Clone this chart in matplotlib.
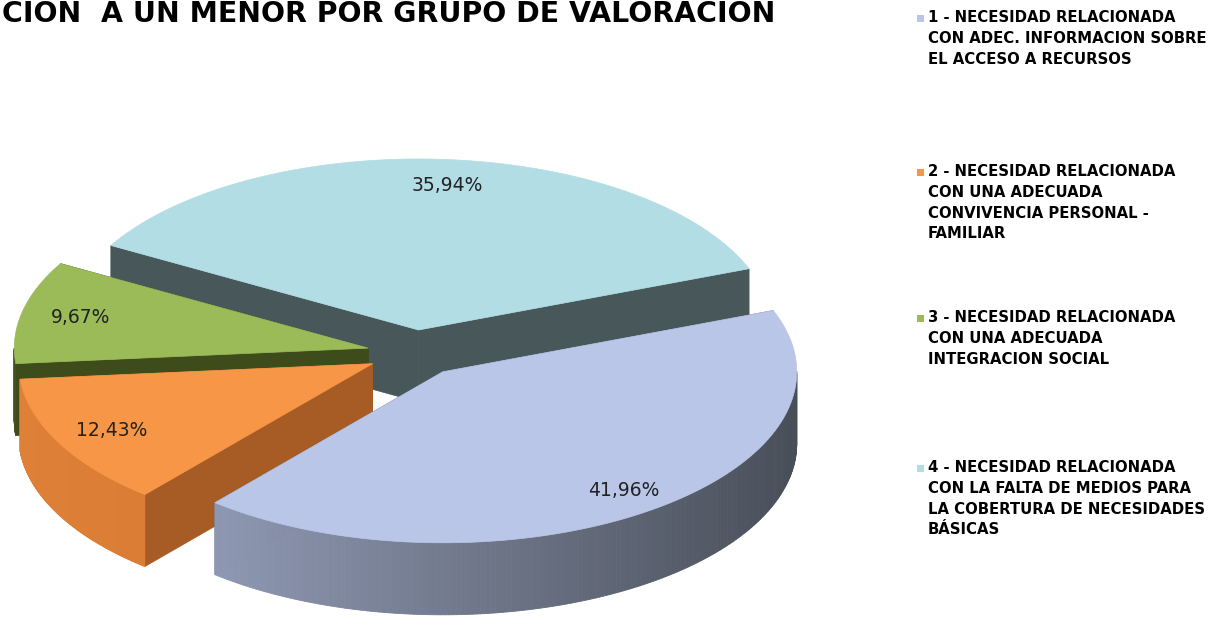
import numpy as np
import matplotlib.pyplot as plt
from matplotlib.patches import Polygon, Rectangle

plt.rcParams["font.family"] = ["DejaVu Sans"]

# datos
values = [41.96, 12.43, 9.67, 35.94]
pct_labels = ["41,96%", "12,43%", "9,67%", "35,94%"]
legend_labels = [
    "1 - NECESIDAD RELACIONADA\nCON ADEC. INFORMACION SOBRE\nEL ACCESO A RECURSOS",
    "2 - NECESIDAD RELACIONADA\nCON UNA ADECUADA\nCONVIVENCIA PERSONAL -\nFAMILIAR",
    "3 - NECESIDAD RELACIONADA\nCON UNA ADECUADA\nINTEGRACION SOCIAL",
    "4 - NECESIDAD RELACIONADA\nCON LA FALTA DE MEDIOS PARA\nLA COBERTURA DE NECESIDADES\nBÁSICAS",
]
title = "CION  A UN MENOR POR GRUPO DE VALORACION"

# colores
top_colors = ["#bac6e8", "#f79646", "#9bbb59", "#b2dde4"]
face_colors = ["#5a6470", "#a65c24", "#3e4c1b", "#47575a"]
wall_left = [np.array([158, 168, 198]), np.array([222, 128, 55]), np.array([66, 80, 30]), np.array([72, 88, 90])]
wall_right = [np.array([72, 78, 88]), np.array([200, 110, 45]), np.array([62, 76, 28]), np.array([72, 88, 90])]

# geometria (pixeles)
cx, cy = 415, 353
a, b = 354, 171
depth = 72
explode = 0.135
start = 21.0

fig = plt.figure(figsize=(12.12, 6.17), dpi=100)
ax = fig.add_axes([0, 0, 1, 1])
ax.set_xlim(0, 1212)
ax.set_ylim(617, 0)
ax.axis("off")


def pt(apex, th, r=1.0, z=0.0):
    t = np.radians(th)
    return (apex[0] + r * a * np.cos(t), apex[1] - r * b * np.sin(t) + z)


angles = []
cum = start
for v in values:
    t1 = cum
    t2 = cum - v * 3.6
    angles.append((t1, t2))
    cum = t2

apexes = []
for t1, t2 in angles:
    m = np.radians((t1 + t2) / 2)
    apexes.append((cx + explode * a * np.cos(m), cy - explode * b * np.sin(m)))

for i in [3, 2, 1, 0]:
    t1, t2 = angles[i]
    apex = apexes[i]
    # caras radiales
    for t in (t1, t2):
        c = pt(apex, t)
        quad = [apex, c, (c[0], c[1] + depth), (apex[0], apex[1] + depth)]
        ax.add_patch(Polygon(quad, closed=True, facecolor=face_colors[i],
                             edgecolor=face_colors[i], lw=0.5))
    # pared exterior (solo la parte frontal)
    ths = np.linspace(t1, t2, 240)
    for k in range(len(ths) - 1):
        th_a, th_b = ths[k], ths[k + 1]
        if np.sin(np.radians((th_a + th_b) / 2)) >= 0:
            continue
        p1 = pt(apex, th_a)
        p2 = pt(apex, th_b)
        f = (np.cos(np.radians((th_a + th_b) / 2)) + 1) / 2
        col = (wall_left[i] * (1 - f) + wall_right[i] * f) / 255
        ax.add_patch(Polygon([p1, p2, (p2[0], p2[1] + depth), (p1[0], p1[1] + depth)],
                             closed=True, facecolor=col, edgecolor=col, lw=0.6))
    # cara superior
    arc = [pt(apex, th) for th in ths]
    ax.add_patch(Polygon([apex] + arc, closed=True, facecolor=top_colors[i],
                         edgecolor=top_colors[i], lw=0.5))

# etiquetas de porcentaje
for i in range(len(values)):
    t1, t2 = angles[i]
    x, y = pt(apexes[i], (t1 + t2) / 2, r=0.85)
    ax.text(x + 6, y, pct_labels[i], fontsize=13.5, ha="center", va="center", color="#222222")

# titulo
ax.text(2, 22, title, fontsize=20.4, fontweight="bold", ha="left", va="baseline", color="black")

# leyenda
legend_y = [18, 172, 318, 468]
for i, lab in enumerate(legend_labels):
    y0 = legend_y[i]
    ax.add_patch(Rectangle((917, y0 - 3.5), 7, 7, facecolor=top_colors[i], edgecolor="none"))
    for j, line in enumerate(lab.split("\n")):
        ax.text(928, y0 + j * 20.5, line, fontsize=10.7, fontweight="bold",
                ha="left", va="center", color="black")

fig.savefig("out.png", dpi=100)
